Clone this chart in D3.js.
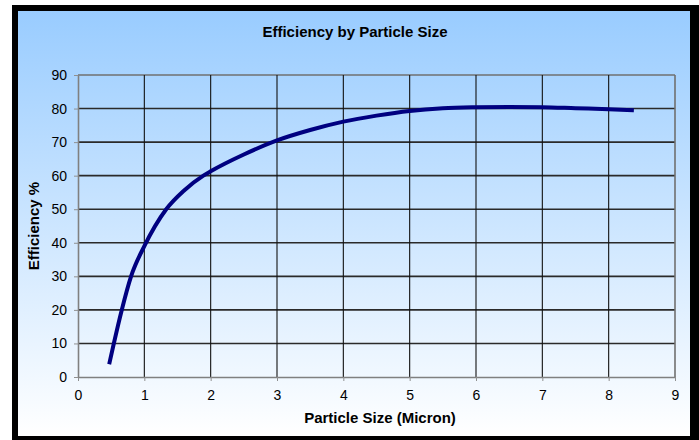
<!DOCTYPE html>
<html>
<head>
<meta charset="utf-8">
<script src="https://cdn.jsdelivr.net/npm/d3@7"></script>
<style>
  body { margin: 0; background: #fff; }
  text { font-family: "Liberation Sans", Arial, Helvetica, sans-serif; fill: #000; }
</style>
</head>
<body>
<svg id="chart" width="699" height="440"></svg>
<script>
// particle size (micron) and collection efficiency (%)
const sizes = [0.47, 0.54, 0.66, 0.8, 1.0, 1.33, 1.6, 1.89, 2.0, 2.5, 3.0, 3.5, 4.0, 4.5, 5.0, 5.5, 6.0, 6.5, 7.0, 7.5, 8.0, 8.38];
const efficiency = [3.8, 10, 20, 30, 39, 50, 55.6, 60, 61.3, 66.3, 70.5, 73.6, 76.1, 77.9, 79.3, 80.1, 80.4, 80.5, 80.4, 80.1, 79.8, 79.5];
const xTicks = [0, 1, 2, 3, 4, 5, 6, 7, 8, 9];
const yTicks = [0, 10, 20, 30, 40, 50, 60, 70, 80, 90];

const svg = d3.select("#chart");

// background: black frame + blue-to-white gradient
const defs = svg.append("defs");
const grad = defs.append("linearGradient")
    .attr("id", "bg").attr("x1", 0).attr("y1", 0).attr("x2", 0).attr("y2", 1);
grad.append("stop").attr("offset", "0%").attr("stop-color", "#99ccff");
grad.append("stop").attr("offset", "100%").attr("stop-color", "#ffffff");

svg.append("rect").attr("x", 12).attr("y", 5).attr("width", 687).attr("height", 435).attr("fill", "#000");
svg.append("rect").attr("x", 18).attr("y", 11).attr("width", 672).attr("height", 425).attr("fill", "url(#bg)");

var x = d3.scaleLinear().domain([0, 9]).range([78, 675]);
var y = d3.scaleLinear().domain([0, 90]).range([377, 75]);

// grid
svg.append("g").selectAll("line")
    .data(yTicks.slice(1))
  .enter().append("line")
    .attr("x1", x(0)).attr("x2", x(9))
    .attr("y1", d => y(d)).attr("y2", d => y(d))
    .attr("stroke", d => d == 90 ? "#707070" : "#2a2a2a")
    .attr("stroke-width", 1.6);

svg.append("g").selectAll("line")
    .data(xTicks.slice(1))
  .enter().append("line")
    .attr("x1", d => x(d)).attr("x2", d => x(d))
    .attr("y1", y(0)).attr("y2", y(90))
    .attr("stroke", d => d == 9 ? "#707070" : "#111")
    .attr("stroke-width", d => d == 9 ? 1.6 : 1.1);

// axes
const xAxis = svg.append("g")
    .attr("transform", "translate(0," + y(0) + ")")
    .call(d3.axisBottom(x).tickValues(xTicks).tickSize(4).tickPadding(9).tickSizeOuter(0));
const yAxis = svg.append("g")
    .attr("transform", "translate(" + x(0) + ",0)")
    .call(d3.axisLeft(y).tickValues(yTicks).tickSize(4).tickPadding(7).tickSizeOuter(0));

[xAxis, yAxis].forEach(a => {
  a.select(".domain").attr("stroke", "#808080").attr("stroke-width", 1.6);
  a.selectAll(".tick line").attr("stroke", "#909090");
  a.selectAll(".tick text")
    .style("font-family", "'Liberation Sans', Arial, sans-serif")
    .style("font-size", "14px")
    .attr("fill", "#000");
});

// curve
const line = d3.line()
    .x((d, i) => x(sizes[i]))
    .y(d => y(d))
    .curve(d3.curveMonotoneX);

svg.append("path")
    .datum(efficiency)
    .attr("d", line)
    .attr("fill", "none")
    .attr("stroke", "#000080")
    .attr("stroke-width", 4);

// titles
svg.append("text")
    .attr("x", 355).attr("y", 37)
    .attr("text-anchor", "middle")
    .style("font-size", "15px").style("font-weight", "bold")
    .text("Efficiency by Particle Size");

svg.append("text")
    .attr("x", 380).attr("y", 423)
    .attr("text-anchor", "middle")
    .style("font-size", "15px").style("font-weight", "bold")
    .text("Particle Size (Micron)");

svg.append("text")
    .attr("transform", "translate(39," + 226 + ") rotate(-90)")
    .attr("text-anchor", "middle")
    .style("font-size", "15px").style("font-weight", "bold")
    .text("Efficiency %");
</script>
</body>
</html>
